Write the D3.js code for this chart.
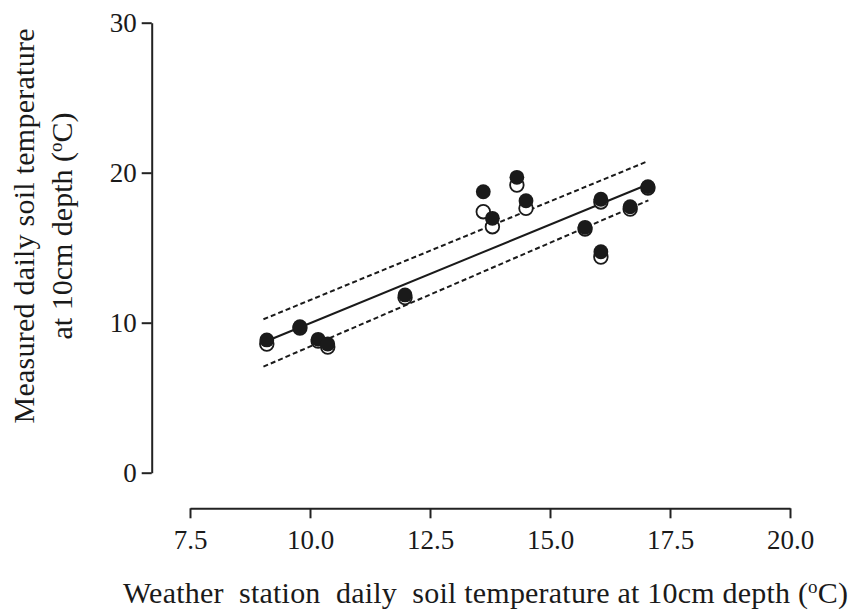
<!DOCTYPE html>
<html lang="en">
<head>
  <meta charset="utf-8">
  <title>Soil temperature</title>
  <script src="https://cdn.jsdelivr.net/npm/d3@7"></script>
  <style type="text/css">
    body { margin: 0; background: #fff; }
    text { font-family: "Liberation Serif", "Times New Roman", serif; fill: #1a1a1a; }
  </style>
</head>
<body>
  <script type="text/javascript">

    var width = 851;
    var height = 614;

    // weather station temperature (x) and measured temperatures (filled / open)
    var stationTemp = [9.10, 9.79, 10.17, 10.37, 11.98, 13.61, 13.80, 14.31, 14.50, 15.73, 16.06, 16.06, 16.67, 17.04];
    var measuredFilled = [8.85, 9.73, 8.89, 8.58, 11.85, 18.73, 16.96, 19.69, 18.13, 16.36, 18.23, 14.73, 17.73, 19.07];
    var measuredOpen = [8.58, 9.65, 8.78, 8.38, 11.68, 17.40, 16.40, 19.18, 17.63, 16.25, 18.05, 14.38, 17.58, 18.98];

    // regression line and its bands (end points)
    var fitX = [9.10, 17.01];
    var fitY = [8.78, 19.18];
    var upperX = [9.03, 17.01];
    var upperY = [10.23, 20.73];
    var lowerX = [9.03, 17.05];
    var lowerY = [7.07, 18.16];

    var xTicks = [7.5, 10.0, 12.5, 15.0, 17.5, 20.0];
    var yTicks = [0, 10, 20, 30];

    var svg = d3.select("body")
            .append("svg")
            .attr("width", width)
            .attr("height", height);

    var xScale = d3.scaleLinear().domain([7.5, 20]).range([190, 790]);
    var yScale = d3.scaleLinear().domain([0, 30]).range([472.7, 22.7]);

    // x axis, sits below the plot
    var xAxis = svg.append("g")
        .attr("transform", "translate(0,508.3)")
        .call(d3.axisBottom(xScale).tickValues(xTicks).tickSize(10).tickSizeOuter(0).tickPadding(12)
            .tickFormat(d3.format(".1f")));

    // y axis, left of the plot
    var yAxis = svg.append("g")
        .attr("transform", "translate(151.7,0)")
        .call(d3.axisLeft(yScale).tickValues(yTicks).tickSize(10).tickSizeOuter(0).tickPadding(5));

    [xAxis, yAxis].forEach(function(ax){
        ax.select(".domain").attr("stroke", "#222").attr("stroke-width", 2);
        ax.selectAll(".tick line").attr("stroke", "#222").attr("stroke-width", 2);
        ax.selectAll(".tick text")
            .style("font-family", "Liberation Serif")
            .style("font-size", "27px")
            .attr("fill", "#1a1a1a");
    });

    // fit line + dashed bands
    function drawLine(xs, ys, dash){
        var pts = xs.map(function(d, i){ return [d, ys[i]]; });
        svg.append("path")
            .datum(pts)
            .attr("d", d3.line()
                .x(function(d){ return xScale(d[0]); })
                .y(function(d){ return yScale(d[1]); }))
            .attr("fill", "none")
            .attr("stroke", "#1a1a1a")
            .attr("stroke-width", 2)
            .attr("stroke-dasharray", dash);
    }
    drawLine(fitX, fitY, null);
    drawLine(upperX, upperY, "5,3");
    drawLine(lowerX, lowerY, "5,3");

    // open circles first, filled ones on top
    svg.selectAll(".open")
        .data(stationTemp)
        .enter()
        .append("circle")
        .attr("class", "open")
        .attr("cx", function(d){ return xScale(d); })
        .attr("cy", function(d, i){ return yScale(measuredOpen[i]); })
        .attr("r", 6.8)
        .attr("fill", "#fff")
        .attr("stroke", "#1a1a1a")
        .attr("stroke-width", 1.8);

    svg.selectAll(".filled")
        .data(stationTemp)
        .enter()
        .append("circle")
        .attr("class", "filled")
        .attr("cx", function(d){ return xScale(d); })
        .attr("cy", function(d, i){ return yScale(measuredFilled[i]); })
        .attr("r", 7.4)
        .attr("fill", "#1a1a1a");

    // x title
    var xt = svg.append("text")
        .attr("x", 123)
        .attr("y", 603)
        .attr("textLength", 725)
        .attr("lengthAdjust", "spacing")
        .style("font-size", "30px")
        .style("white-space", "pre");
    xt.append("tspan").text("Weather  station  daily  soil temperature at 10cm depth (");
    xt.append("tspan").attr("dy", -10).style("font-size", "19px").text("o");
    xt.append("tspan").attr("dy", 10).text("C)");

    // y title, two lines
    svg.append("text")
        .attr("transform", "translate(34,226) rotate(-90)")
        .attr("text-anchor", "middle")
        .attr("textLength", 395)
        .attr("lengthAdjust", "spacing")
        .style("font-size", "30px")
        .text("Measured daily soil temperature");

    var yt2 = svg.append("text")
        .attr("transform", "translate(72,226) rotate(-90)")
        .attr("text-anchor", "middle")
        .style("font-size", "30px");
    yt2.append("tspan").text("at 10cm depth (");
    yt2.append("tspan").attr("dy", -10).style("font-size", "19px").text("o");
    yt2.append("tspan").attr("dy", 10).text("C)");

  </script>
</body>
</html>
